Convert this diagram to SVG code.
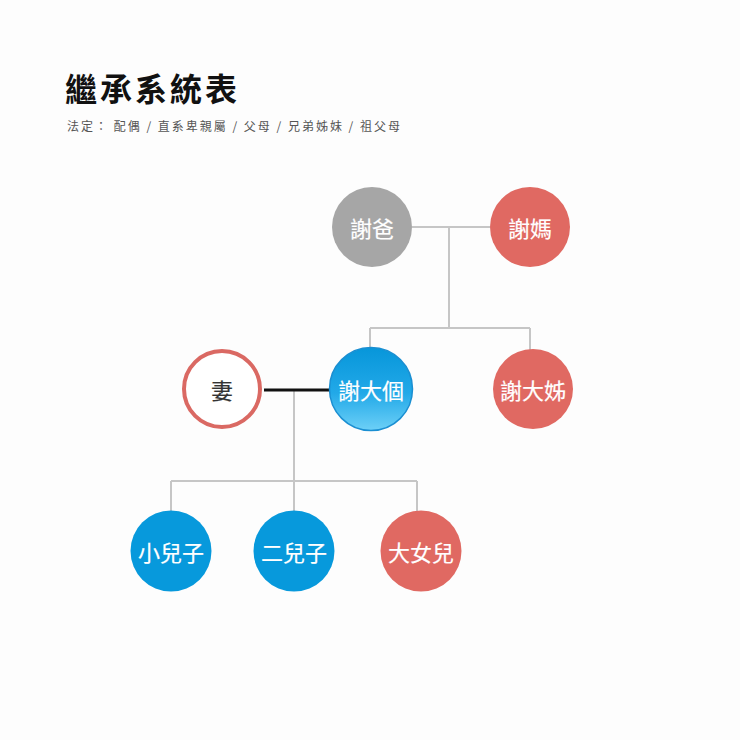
<svg xmlns="http://www.w3.org/2000/svg" width="740" height="740" viewBox="0 0 740 740">
<defs>
<linearGradient id="blueGrad" x1="0" y1="0" x2="0" y2="1">
<stop offset="0" stop-color="#0796da"/>
<stop offset="0.55" stop-color="#22a9e8"/>
<stop offset="1" stop-color="#6dd0f7"/>
</linearGradient>
<style>
.title{font-family:"Noto Sans CJK TC","Noto Sans CJK SC",sans-serif;font-size:32px;font-weight:700;fill:#111;letter-spacing:3px}
.sub{font-family:"Noto Sans CJK TC","Noto Sans CJK SC",sans-serif;font-size:12px;fill:#555;letter-spacing:2px}
.lbl{font-family:"Noto Sans CJK TC","Noto Sans CJK SC",sans-serif;font-size:22px;font-weight:400;fill:#fff;text-anchor:middle;dominant-baseline:central;stroke:#fff;stroke-width:0.2}
.dark{fill:#333;stroke:#333}
.gray{fill:#a6a6a6}
.red{fill:#e06962}
.blue{fill:#0799dc}
.conn{fill:none;stroke:#c6c6c6;stroke-width:2}
.spouse{fill:none;stroke:#111;stroke-width:3}
</style>
</defs>
<rect width="740" height="740" fill="#fdfdfd"/>
<text class="title" x="65" y="101">繼承系統表</text>
<text class="sub" x="67" y="131">法定： 配偶 / 直系卑親屬 / 父母 / 兄弟姊妹 / 祖父母</text>
<g id="connectors">
<path class="conn" d="M412 227 H490 M449 227 V328 M370 328 H530 M370 328 V348 M530 328 V350"/>
<path class="conn" d="M294 390 V481 M171 481 H417 M171 481 V511 M294 481 V511 M417 481 V512"/>
<path class="spouse" d="M264 390 H330"/>
</g>
<g id="dad">
<circle class="gray" cx="372" cy="227" r="40"/>
<text class="lbl" x="372" y="227">謝爸</text>
</g>
<g id="mom">
<circle class="red" cx="530" cy="227" r="40"/>
<text class="lbl" x="530" y="227">謝媽</text>
</g>
<g id="wife">
<circle cx="222" cy="389" r="38" fill="#fff" stroke="#da6963" stroke-width="4"/>
<text class="lbl dark" x="222" y="389">妻</text>
</g>
<g id="self">
<circle cx="371" cy="389" r="41.5" fill="url(#blueGrad)" stroke="#1a8fd2" stroke-width="1.5"/>
<text class="lbl" x="371" y="389">謝大個</text>
</g>
<g id="sister">
<circle class="red" cx="533" cy="389" r="40"/>
<text class="lbl" x="533" y="389">謝大姊</text>
</g>
<g id="son1">
<circle class="blue" cx="171" cy="551" r="40.5"/>
<text class="lbl" x="171" y="551">小兒子</text>
</g>
<g id="son2">
<circle class="blue" cx="294" cy="551" r="40.5"/>
<text class="lbl" x="294" y="551">二兒子</text>
</g>
<g id="daughter">
<circle class="red" cx="421" cy="551" r="40.5"/>
<text class="lbl" x="421" y="551">大女兒</text>
</g>
</svg>
